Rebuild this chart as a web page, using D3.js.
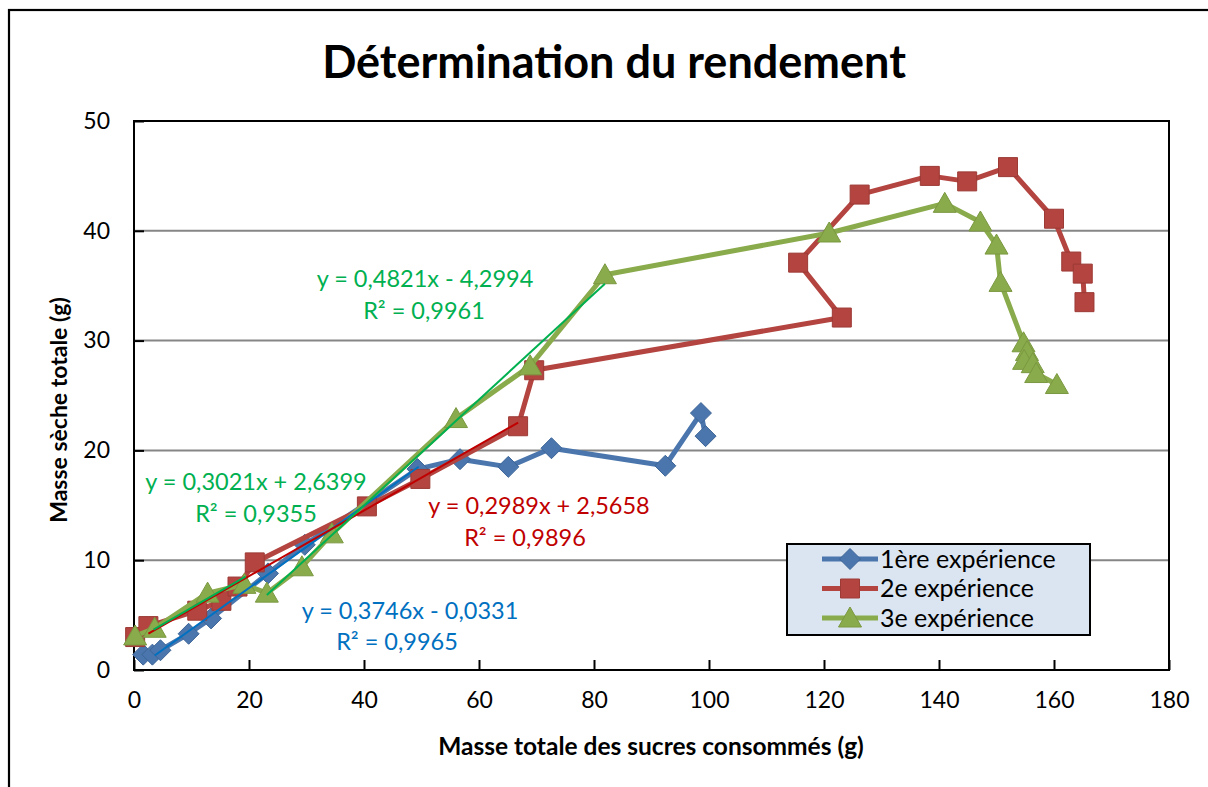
<!DOCTYPE html>
<html>
<head>
<meta charset="utf-8">
<script src="https://cdn.jsdelivr.net/npm/d3@7"></script>
<style>
  html, body { margin: 0; padding: 0; background: #fff; }
  svg { display: block; }
  text { font-family: Lato, "Noto Sans", sans-serif; fill: #000; }
</style>
</head>
<body>
<svg id="chart" width="1208" height="787"></svg>
<script>
// Masse sèche totale (g) en fonction de la masse de sucres consommés (g)
const exp1X = [1.6, 3.2, 4.6, 9.5, 13.4, 23.3, 29.7, 49.3, 56.7, 65.1, 72.6, 92.4, 98.6, 99.4];
const exp1Y = [1.4, 1.4, 1.8, 3.3, 4.7, 8.8, 11.4, 18.3, 19.2, 18.5, 20.2, 18.6, 23.4, 21.3];

const exp2X = [0.2, 2.5, 11.0, 15.2, 18.0, 21.0, 40.5, 49.8, 66.8, 69.6, 123.1, 115.5, 126.2, 138.4, 144.9, 152.0, 160.0, 163.0, 165.0, 165.3];
const exp2Y = [3.0, 4.0, 5.4, 6.3, 7.6, 9.8, 14.9, 17.4, 22.2, 27.3, 32.1, 37.1, 43.3, 45.0, 44.5, 45.8, 41.1, 37.2, 36.1, 33.5];

const exp3X = [0.2, 3.6, 12.8, 19.2, 23.1, 29.2, 34.4, 56.0, 68.9, 81.9, 120.9, 141.0, 147.2, 150.0, 150.7, 154.7, 155.3, 154.8, 156.3, 156.9, 160.5];
const exp3Y = [3.1, 3.8, 7.0, 7.8, 7.0, 9.4, 12.4, 22.9, 27.7, 36.0, 39.8, 42.5, 40.8, 38.7, 35.3, 29.8, 29.0, 28.2, 27.9, 27.0, 26.0];

const seriesNames = ["1ère expérience", "2e expérience", "3e expérience"];

// Droites de tendance : pente, ordonnée à l'origine, plage en x, R²
const trendSlope     = [0.3746, 0.2989, 0.3021, 0.4821];
const trendIntercept = [-0.0331, 2.5658, 2.6399, -4.2994];
const trendFrom      = [3.6, 2.5, 3.4, 23.1];
const trendTo        = [49.5, 66.8, 19.4, 81.9];
const trendR2        = ["0,9965", "0,9896", "0,9355", "0,9961"];

const xTicks = [0, 20, 40, 60, 80, 100, 120, 140, 160, 180];
const yTicks = [0, 10, 20, 30, 40, 50];

// ---------------------------------------------------------------------------
const svg = d3.select("#chart");
const W = 1208, H = 787;
const plot = { left: 134, right: 1169, top: 121, bottom: 670 };

const x = d3.scaleLinear().domain([0, 180]).range([plot.left, plot.right]);
const y = d3.scaleLinear().domain([0, 50]).range([plot.bottom, plot.top]);

const seriesColor = ["#4a76ad", "#b3443f", "#8aab4b"];
const markerStroke = ["#3d6597", "#9c3a36", "#7a9840"];
const trendColor = ["#0070c0", "#c00000", "#00b050", "#00b050"];

svg.append("rect").attr("width", W).attr("height", H).attr("fill", "#fff");

// Cadre extérieur du graphique
svg.append("rect")
  .attr("x", 9).attr("y", 10).attr("width", W + 20).attr("height", H + 20)
  .attr("fill", "none").attr("stroke", "#000").attr("stroke-width", 2.2);

// Titre
svg.append("text")
  .attr("x", 614).attr("y", 78)
  .attr("text-anchor", "middle")
  .attr("font-size", 45).attr("font-weight", 700)
  .text("Détermination du rendement");

// Quadrillage horizontal
svg.append("g")
  .selectAll("line")
  .data(yTicks.filter(d => d > 0 && d < 50))
  .join("line")
  .attr("x1", plot.left).attr("x2", plot.right)
  .attr("y1", d => y(d)).attr("y2", d => y(d))
  .attr("stroke", "#868686").attr("stroke-width", 2);

// Axes (graduations intérieures)
const xAxis = d3.axisBottom(x).tickValues(xTicks).tickSize(-10).tickPadding(22).tickFormat(d3.format("d"));
const yAxis = d3.axisLeft(y).tickValues(yTicks).tickSize(-10).tickPadding(24).tickFormat(d3.format("d"));

const gx = svg.append("g").attr("transform", `translate(0,${plot.bottom})`).call(xAxis);
const gy = svg.append("g").attr("transform", `translate(${plot.left},0)`).call(yAxis);
[gx, gy].forEach(g => {
  g.select(".domain").remove();
  g.selectAll(".tick line").attr("stroke", "#000").attr("stroke-width", 2);
  g.selectAll(".tick text").attr("font-size", 23).attr("fill", "#000")
    .style("font-family", "Lato, 'Noto Sans', sans-serif");
});
gx.selectAll(".tick text").attr("dy", "0.68em");

// Bordure de la zone de tracé
svg.append("rect")
  .attr("x", plot.left).attr("y", plot.top)
  .attr("width", plot.right - plot.left).attr("height", plot.bottom - plot.top)
  .attr("fill", "none").attr("stroke", "#000").attr("stroke-width", 2);

// Titres des axes
svg.append("text")
  .attr("x", 651).attr("y", 755)
  .attr("text-anchor", "middle").attr("font-size", 24.5).attr("font-weight", 700)
  .text("Masse totale des sucres consommés (g)");

svg.append("text")
  .attr("transform", "translate(67,410) rotate(-90)")
  .attr("text-anchor", "middle").attr("font-size", 23).attr("font-weight", 700)
  .text("Masse sèche totale (g)");

// Symboles
const markerPath = [
  "M0,-10.5L10.5,0L0,10.5L-10.5,0Z",          // losange
  "M-9.5,-9.5H9.5V9.5H-9.5Z",                  // carré
  "M0,-11L11.5,9L-11.5,9Z"                     // triangle
];

const series = [
  exp1X.map((v, i) => [v, exp1Y[i]]),
  exp2X.map((v, i) => [v, exp2Y[i]]),
  exp3X.map((v, i) => [v, exp3Y[i]])
];

const line = d3.line().x(d => x(d[0])).y(d => y(d[1]));

series.forEach((pts, s) => {
  const g = svg.append("g");
  g.append("path")
    .attr("d", line(pts))
    .attr("fill", "none")
    .attr("stroke", seriesColor[s])
    .attr("stroke-width", 5)
    .attr("stroke-linejoin", "round")
    .attr("stroke-linecap", "round");
  g.selectAll("path.m")
    .data(pts)
    .join("path")
    .attr("class", "m")
    .attr("d", markerPath[s])
    .attr("transform", d => `translate(${x(d[0])},${y(d[1])})`)
    .attr("fill", seriesColor[s])
    .attr("stroke", markerStroke[s])
    .attr("stroke-width", 1);
});

// Droites de tendance
trendSlope.forEach((a, i) => {
  const b = trendIntercept[i];
  svg.append("line")
    .attr("x1", x(trendFrom[i])).attr("y1", y(a * trendFrom[i] + b))
    .attr("x2", x(trendTo[i])).attr("y2", y(a * trendTo[i] + b))
    .attr("stroke", trendColor[i]).attr("stroke-width", 2);
});

// Équations des droites de tendance
const fmt = v => v.toFixed(4).replace(".", ",");
const eqText = i => {
  const a = trendSlope[i], b = trendIntercept[i];
  return `y = ${fmt(a)}x ${b < 0 ? "-" : "+"} ${fmt(Math.abs(b))}`;
};
const labelPos = [
  { x1: 410, y1: 619, x2: 397, y2: 650 },
  { x1: 539, y1: 514, x2: 525, y2: 546 },
  { x1: 256, y1: 490, x2: 256, y2: 522 },
  { x1: 425, y1: 287, x2: 424, y2: 319 }
];
trendSlope.forEach((a, i) => {
  const p = labelPos[i];
  svg.append("text")
    .attr("x", p.x1).attr("y", p.y1).attr("text-anchor", "middle")
    .attr("font-size", 23.5).style("fill", trendColor[i])
    .text(eqText(i));
  svg.append("text")
    .attr("x", p.x2).attr("y", p.y2).attr("text-anchor", "middle")
    .attr("font-size", 23.5).style("fill", trendColor[i])
    .text(`R² = ${trendR2[i]}`);
});

// Légende
const leg = svg.append("g");
leg.append("rect")
  .attr("x", 787).attr("y", 544).attr("width", 303).attr("height", 91)
  .attr("fill", "#dbe5f1").attr("stroke", "#000").attr("stroke-width", 2);
seriesNames.forEach((name, s) => {
  const cy = 559 + s * 29.5;
  leg.append("line")
    .attr("x1", 822).attr("x2", 878).attr("y1", cy).attr("y2", cy)
    .attr("stroke", seriesColor[s]).attr("stroke-width", 5);
  leg.append("path")
    .attr("d", markerPath[s])
    .attr("transform", `translate(850,${cy})`)
    .attr("fill", seriesColor[s]).attr("stroke", markerStroke[s]).attr("stroke-width", 1);
  leg.append("text")
    .attr("x", 880).attr("y", cy + 8.5)
    .attr("font-size", 25)
    .text(name);
});
</script>
</body>
</html>
